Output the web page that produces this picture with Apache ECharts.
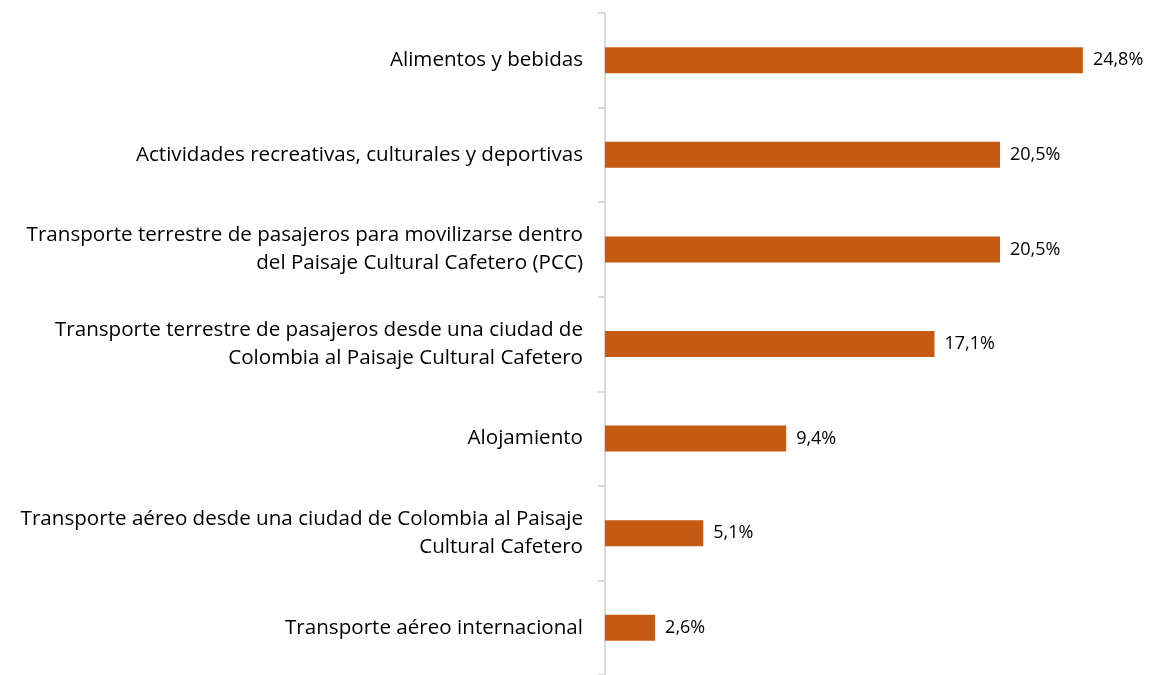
<!DOCTYPE html>
<html><head><meta charset="utf-8">
<script src="https://cdn.jsdelivr.net/npm/echarts@6/dist/echarts.min.js"></script>
<style>html,body{margin:0;padding:0;background:#fff}#c{width:1155px;height:675px}</style>
</head><body><div id="c"></div>
<script>
const categories = [
  "Alimentos y bebidas",
  "Actividades recreativas, culturales y deportivas",
  "Transporte terrestre de pasajeros para movilizarse dentro\ndel Paisaje Cultural Cafetero (PCC)",
  "Transporte terrestre de pasajeros desde una ciudad de\nColombia al Paisaje Cultural Cafetero",
  "Alojamiento",
  "Transporte aéreo desde una ciudad de Colombia al Paisaje\nCultural Cafetero",
  "Transporte aéreo internacional"
];
const values = [24.8, 20.5, 20.5, 17.1, 9.4, 5.1, 2.6];

const chart = echarts.init(document.getElementById('c'));
chart.setOption({
  animation: false,
  grid: { left: 605, right: 49, top: 13, bottom: -3, containLabel: false },
  xAxis: { type: 'value', min: 0, max: 26, show: false },
  yAxis: {
    type: 'category', inverse: true, data: categories,
    axisLine: { show: true, lineStyle: { color: '#d9d9d9', width: 2 } },
    axisTick: { show: true, length: 7, lineStyle: { color: '#d9d9d9', width: 2 } },
    axisLabel: { margin: 22, color: '#000', fontFamily: 'Open Sans', fontSize: 20.6, lineHeight: 28, align: 'right' }
  },
  series: [{
    type: 'bar', data: values, barWidth: 26,
    itemStyle: { color: '#C55A11' },
    label: { show: true, position: 'right', distance: 10, color: '#000', fontFamily: 'Open Sans', fontSize: 18,
      formatter: p => p.value.toFixed(1).replace('.', ',') + '%' }
  }]
});
</script></body></html>
